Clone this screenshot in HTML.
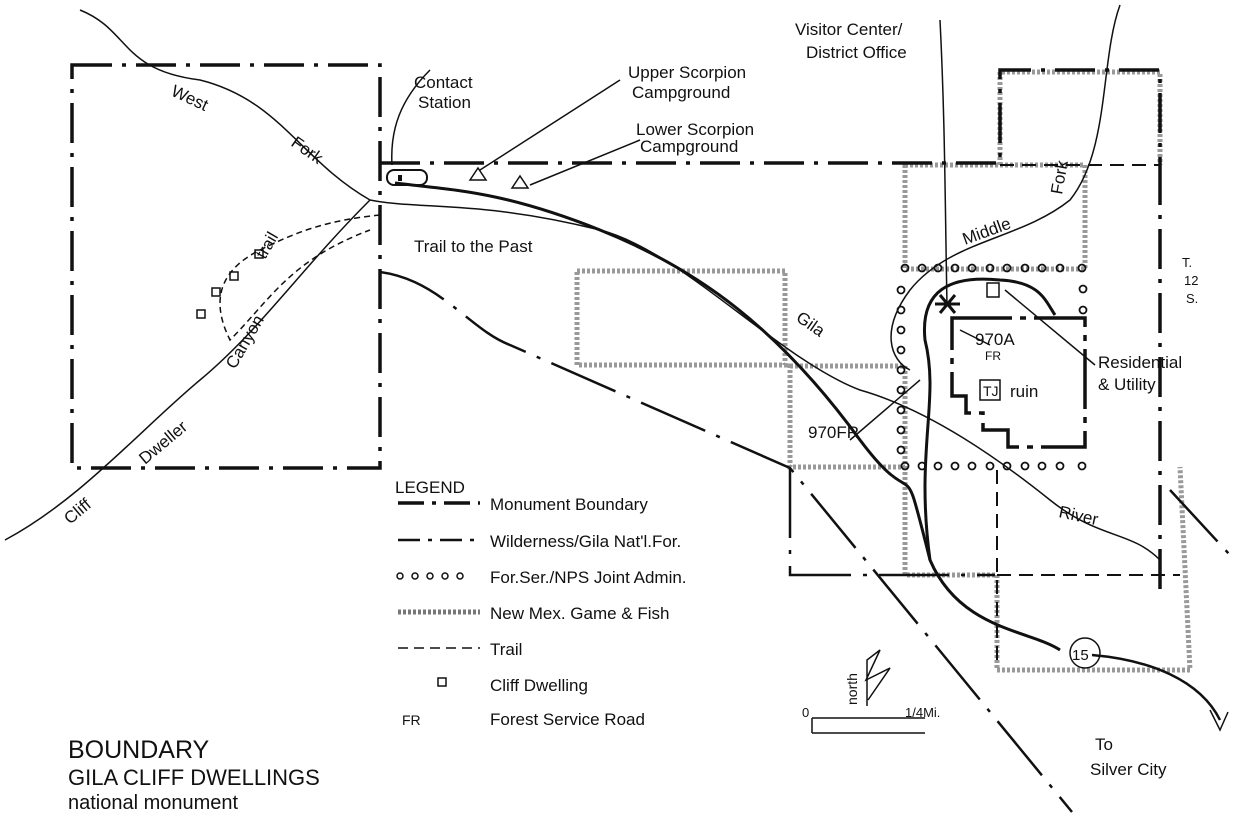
<!DOCTYPE html>
<html><head><meta charset="utf-8"><style>
html,body{margin:0;padding:0;background:#fff;}
svg{display:block;}
text{font-family:"Liberation Sans",sans-serif;fill:#111;}
.h{font-size:17px;}
</style></head><body>
<svg width="1250" height="817" viewBox="0 0 1250 817" xmlns="http://www.w3.org/2000/svg">
<g fill="none" stroke="#111">
<!-- gray hatched Game & Fish -->
<g stroke="#999" stroke-width="5" stroke-dasharray="3 2">
<rect x="577" y="271" width="208" height="94"/>
<rect x="790" y="366" width="115" height="101"/>
<rect x="905" y="165" width="180" height="104"/>
<path d="M1000 165 V72 H1160 V165"/>
<path d="M905 467 V575 H997 V670 H1190 L1180 467"/>
</g>
<!-- monument boundary -->
<g stroke-width="3.5" stroke-dasharray="40 10 4 10">
<rect x="72" y="65" width="308" height="403"/>
<path d="M380 163 H1000 V70 H1160 V165"/>
<path d="M1160 165 V590"/>
</g>
<!-- wilderness -->
<g stroke-width="2.5" stroke-dasharray="70 12 4 12">
<path d="M380 272 C440 280 470 330 510 345 L790 468 L1072 812"/>
<path d="M790 468 V575 H995"/>
<path d="M1170 490 L1230 555"/>
</g>
<g stroke-width="2" stroke-dasharray="14 8">
<path d="M997 470 V668"/><path d="M997 575 H1180"/>
<path d="M1000 165 H1160"/>
</g>
<!-- circles -->
<g stroke-width="1.8">
<g id="cr">
<circle cx="905" cy="268" r="3.5"/><circle cx="922" cy="268" r="3.5"/><circle cx="938" cy="268" r="3.5"/><circle cx="955" cy="268" r="3.5"/><circle cx="972" cy="268" r="3.5"/><circle cx="990" cy="268" r="3.5"/><circle cx="1007" cy="268" r="3.5"/><circle cx="1025" cy="268" r="3.5"/><circle cx="1042" cy="268" r="3.5"/><circle cx="1060" cy="268" r="3.5"/><circle cx="1082" cy="268" r="3.5"/>
</g>
<use href="#cr" y="198"/>
<circle cx="901" cy="290" r="3.5"/><circle cx="901" cy="310" r="3.5"/><circle cx="901" cy="330" r="3.5"/><circle cx="901" cy="350" r="3.5"/><circle cx="901" cy="370" r="3.5"/><circle cx="901" cy="390" r="3.5"/><circle cx="901" cy="410" r="3.5"/><circle cx="901" cy="430" r="3.5"/><circle cx="901" cy="450" r="3.5"/>
<circle cx="1083" cy="289" r="3.5"/><circle cx="1083" cy="310" r="3.5"/>
</g>
<!-- TJ boundary -->
<path d="M952 318 H1085 V447 H1008 V430 H983 V413 H966 V396 H952 Z" stroke-width="3.5" stroke-dasharray="60 8 6 8"/>
<!-- road -->
<path d="M395 183 C450 190 500 190 600 230 C700 270 780 330 860 440 C920 520 900 440 930 560 C960 630 1030 630 1060 650" stroke-width="3"/>
<path d="M1092 655 C1150 660 1200 680 1220 720" stroke-width="2.5"/>
<path d="M930 560 C915 450 940 400 925 340 C920 290 950 275 1000 280 C1040 282 1045 300 1055 315" stroke-width="3"/>
<path d="M1210 710 l10 20 l8 -18" stroke-width="1.5"/>
<!-- rivers -->
<g stroke-width="1.5">
<path d="M80 10 C130 30 120 70 200 80 C280 100 300 160 370 200 C420 210 480 200 600 230 C680 250 780 360 860 390 C930 410 1000 460 1050 500 C1100 540 1130 530 1160 560"/>
<path d="M5 540 C80 500 140 430 200 380 C260 330 300 270 370 200"/>
<path d="M1120 5 C1100 60 1110 150 1070 200 C1020 240 950 240 910 290 C880 330 890 360 910 370"/>
<path d="M940 20 C945 120 945 200 947 305"/>
<path d="M1005 290 L1095 365"/>
<path d="M960 330 L990 345"/>
<path d="M850 440 L920 380"/>
</g>
<path d="M380 215 C330 220 300 230 260 250 C220 270 210 300 230 340 C270 300 290 260 370 230" stroke-width="1.5" stroke-dasharray="6 4"/>
<rect x="387" y="170" width="40" height="15" rx="7" stroke-width="2"/>
<path d="M400 175 v6" stroke-width="4"/>
<path d="M470 180 l8 -12 l8 12 z M512 188 l8 -12 l8 12 z" stroke-width="1.5"/>
<path d="M430 70 C400 100 390 130 392 165" stroke-width="1.5"/>
<path d="M620 80 L480 170 M640 140 L530 185" stroke-width="1.5"/>
<g stroke-width="1.5"><rect x="255" y="250" width="8" height="8"/><rect x="230" y="272" width="8" height="8"/><rect x="212" y="288" width="8" height="8"/><rect x="197" y="310" width="8" height="8"/><rect x="987" y="283" width="12" height="14"/><rect x="980" y="380" width="20" height="20"/></g>
<path d="M940 295 l15 18 M955 295 l-15 18 M935 304 h25" stroke-width="3"/>
<circle cx="1085" cy="653" r="15" stroke-width="1.5"/>
<!-- legend lines -->
<path d="M398 503 H480" stroke-width="3.5" stroke-dasharray="26 8 4 8"/>
<path d="M398 540 H480" stroke-width="2.5" stroke-dasharray="22 8 4 8"/>
<path d="M398 612 H480" stroke="#777" stroke-width="5" stroke-dasharray="3 2"/>
<path d="M398 648 H480" stroke-width="1.5" stroke-dasharray="10 6"/>
<g stroke-width="1.5"><circle cx="400" cy="576" r="3"/><circle cx="415" cy="576" r="3"/><circle cx="430" cy="576" r="3"/><circle cx="445" cy="576" r="3"/><circle cx="460" cy="576" r="3"/><rect x="438" y="678" width="8" height="8"/></g>
<path d="M812 718 H925 M812 733 H925 M812 718 V733" stroke-width="1.5"/>
<path d="M867 706 V660 L880 650 L866 680 L890 668 L868 700" stroke-width="1.5"/>
</g>
<g class="h">
<text x="414" y="88">Contact</text><text x="418" y="108">Station</text>
<text x="628" y="78">Upper Scorpion</text><text x="632" y="98">Campground</text>
<text x="636" y="135">Lower Scorpion</text><text x="640" y="152">Campground</text>
<text x="414" y="252">Trail to the Past</text>
<text x="795" y="35">Visitor Center/</text><text x="806" y="58">District Office</text>
<text x="170" y="95" transform="rotate(25 170 95)">West</text>
<text x="290" y="145" transform="rotate(35 290 145)">Fork</text>
<text x="795" y="320" transform="rotate(35 795 320)">Gila</text>
<text x="965" y="245" transform="rotate(-20 965 245)">Middle</text>
<text x="1062" y="195" transform="rotate(-80 1062 195)">Fork</text>
<text x="1058" y="517" transform="rotate(12 1058 517)">River</text>
<text x="265" y="260" transform="rotate(-60 265 260)">trail</text>
<text x="235" y="370" transform="rotate(-60 235 370)">Canyon</text>
<text x="145" y="465" transform="rotate(-40 145 465)">Dweller</text>
<text x="70" y="525" transform="rotate(-40 70 525)">Cliff</text>
<text x="808" y="438">970FR</text>
<text x="975" y="345">970A</text><text x="985" y="360" style="font-size:12px">FR</text>
<text x="983" y="396" style="font-size:14px">TJ</text><text x="1010" y="397">ruin</text>
<text x="1098" y="368">Residential</text><text x="1098" y="390">&amp; Utility</text>
<text x="1182" y="267" style="font-size:13px">T.</text><text x="1184" y="285" style="font-size:13px">12</text><text x="1186" y="303" style="font-size:13px">S.</text>
<text x="1072" y="660" style="font-size:15px">15</text>
<text x="1095" y="750">To</text><text x="1090" y="775">Silver City</text>
<text x="395" y="493">LEGEND</text>
<text x="490" y="510">Monument Boundary</text>
<text x="490" y="547">Wilderness/Gila Nat'l.For.</text>
<text x="490" y="583">For.Ser./NPS Joint Admin.</text>
<text x="490" y="619">New Mex. Game &amp; Fish</text>
<text x="490" y="655">Trail</text>
<text x="490" y="691">Cliff Dwelling</text>
<text x="402" y="725" style="font-size:14px">FR</text><text x="490" y="725">Forest Service Road</text>
<text x="802" y="717" style="font-size:13px">0</text><text x="905" y="717" style="font-size:13px">1/4Mi.</text>
<text x="857" y="705" style="font-size:14px" transform="rotate(-90 857 705)">north</text>
</g>
<text x="68" y="758" style="font-size:25px">BOUNDARY</text>
<text x="68" y="785" style="font-size:22px">GILA CLIFF DWELLINGS</text>
<text x="68" y="809" style="font-size:20px">national monument</text>
</svg>
</body></html>
